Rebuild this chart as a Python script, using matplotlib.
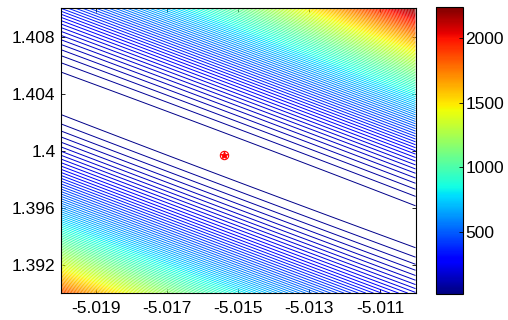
import numpy as np
import matplotlib
matplotlib.use("Agg")
import matplotlib.pyplot as plt

# ---- data (model parameters) ----
x_range = [-5.020, -5.010]
y_range = [1.390, 1.410]
center = [-5.01539, 1.39970]          # red marker / minimum
valley_slope = -0.94                  # dy/dx along the valley
curv_across = 9.4e6                   # curvature across the valley
curv_along = 2.0e4                    # curvature along the valley
f_min = 20.0
n_levels = 100
x_ticks = [-5.019, -5.017, -5.015, -5.013, -5.011]
x_ticklabels = ["-5.019", "-5.017", "-5.015", "-5.013", "-5.011"]
y_ticks = [1.392, 1.396, 1.400, 1.404, 1.408]
y_ticklabels = ["1.392", "1.396", "1.4", "1.404", "1.408"]
cbar_ticks = [500, 1000, 1500, 2000]

plt.rcParams['font.family'] = ['Liberation Sans', 'DejaVu Sans']

xs = np.linspace(x_range[0], x_range[1], 500)
ys = np.linspace(y_range[0], y_range[1], 500)
X, Y = np.meshgrid(xs, ys)
dx = X - center[0]
dy = Y - center[1]
d = dy - valley_slope * dx
s = dx + valley_slope * dy
Z = f_min + curv_across * d**2 + curv_along * s**2

levels = np.linspace(Z.min(), Z.max(), n_levels)

fig = plt.figure(figsize=(5.08, 3.20), dpi=100)
ax = fig.add_axes([0.120, 0.084, 0.698, 0.891])
cs = ax.contour(X, Y, Z, levels=levels, cmap='jet', linewidths=0.7)
ax.plot(center[0], center[1], marker='o', ms=6, mfc='none', mec='red', mew=0.8)
ax.plot(center[0], center[1], marker='*', ms=6, color='red', mew=0.6)
ax.set_xlim(x_range)
ax.set_ylim(y_range)
ax.set_xticks(x_ticks)
ax.set_xticklabels(x_ticklabels)
ax.set_yticks(y_ticks)
ax.set_yticklabels(y_ticklabels)
ax.tick_params(direction='in', top=True, right=True, labelsize=12.5, length=3, width=0.6)
ax.tick_params(axis='x', pad=6)
ax.tick_params(axis='y', pad=4)
for sp in ax.spines.values():
    sp.set_linewidth(0.8)

cax = fig.add_axes([0.858, 0.081, 0.053, 0.897])
norm = matplotlib.colors.Normalize(vmin=Z.min(), vmax=Z.max())
sm = matplotlib.cm.ScalarMappable(norm=norm, cmap='jet')
cb = fig.colorbar(sm, cax=cax, ticks=cbar_ticks)
cb.ax.tick_params(direction='in', labelsize=12.5, length=3, width=0.6, pad=2)
cb.outline.set_linewidth(0.8)

fig.savefig("out.png", dpi=100)
